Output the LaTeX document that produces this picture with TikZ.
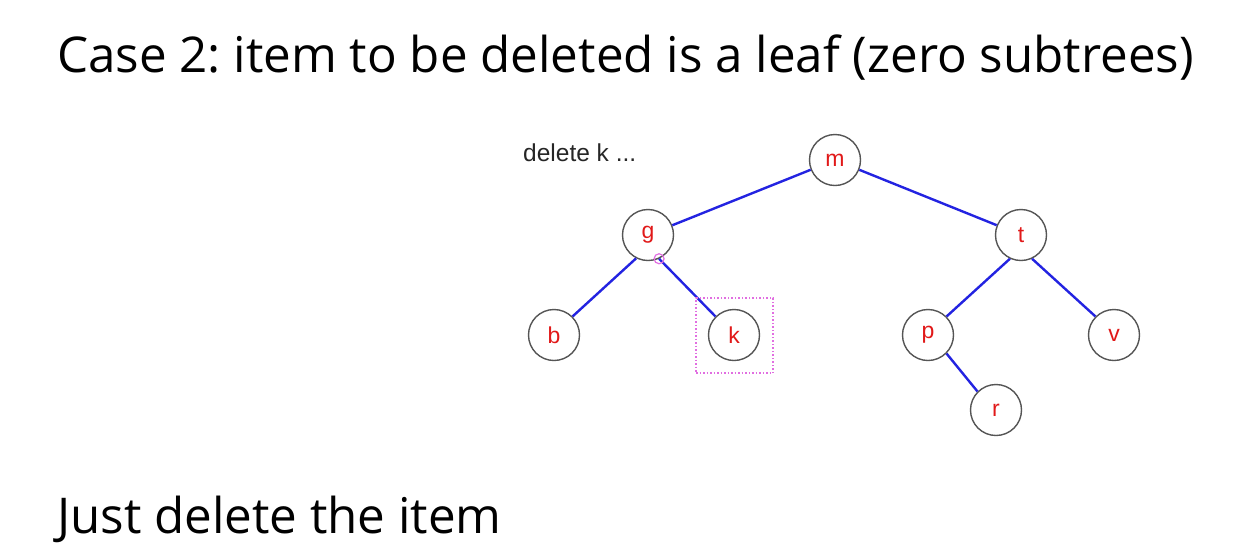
\documentclass[tikz,border=0pt]{standalone}
\usepackage{fontspec}
\setmainfont{Open Sans}
\newfontfamily\arialfont{Liberation Sans}
\definecolor{edgeblue}{RGB}{35,35,225}
\definecolor{keyred}{RGB}{225,25,25}
\definecolor{ringgray}{RGB}{85,85,85}
\definecolor{marker}{RGB}{225,110,225}
\begin{document}
\frenchspacing
\begin{tikzpicture}[x=1pt,y=-1pt,
  treenode/.style={circle,draw=ringgray,line width=1.4pt,minimum size=51pt,inner sep=0pt,
    text=keyred,font=\arialfont\fontsize{23}{23}\selectfont},
  branch/.style={draw=edgeblue,line width=2.4pt},
  title/.style={anchor=base west,inner sep=0pt,font=\fontsize{49.3}{50}\selectfont}]
\useasboundingbox (0,0) rectangle (1260,558);
\fill[white] (0,0) rectangle (1260,558);
\node[title] (head) at (57,72) {Case 2: item to be deleted is a leaf (zero subtrees)};
\node[title] (foot) at (57,533) {Just delete the item};
\node[anchor=base west,inner sep=0pt,text=black!85,font=\arialfont\fontsize{24.5}{24.5}\selectfont] (cap) at (523,161) {delete k ...};
\node[treenode] (m) at (835,160) {m};
\node[treenode] (g) at (648,235) {g};
\node[treenode] (t) at (1021,235) {t};
\node[treenode] (b) at (554,335) {b};
\node[treenode] (k) at (734,335) {k};
\node[treenode] (p) at (928,335) {p};
\node[treenode] (v) at (1114,335) {v};
\node[treenode] (r) at (996,410) {r};
\draw[branch] (m) -- (g);
\draw[branch] (m) -- (t);
\draw[branch] (g.-117) -- (b.45);
\draw[branch] (g.-65) -- (k.135);
\draw[branch] (t.-115) -- (p.45);
\draw[branch] (t.-65) -- (v.135);
\draw[branch] (p.-45) -- (r.135);
\coordinate (hit) at (g.-65);
\draw[marker,line width=1.2pt] (hit) circle (5pt);
\node[draw=marker,dotted,line width=1.5pt,minimum width=77pt,minimum height=75pt,inner sep=0pt] (box) at (734.5,335.5) {};
\end{tikzpicture}
\end{document}
